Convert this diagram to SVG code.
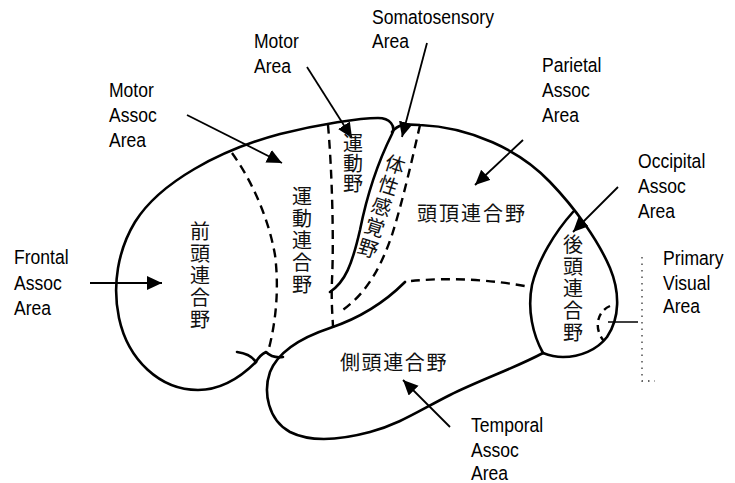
<svg xmlns="http://www.w3.org/2000/svg" width="735" height="483" viewBox="0 0 735 483">
<style>
.o{fill:none;stroke:#000;stroke-width:2.6;stroke-linecap:round;stroke-linejoin:round}
.d{fill:none;stroke:#000;stroke-width:2.4;stroke-dasharray:9 6}
.a{fill:none;stroke:#000;stroke-width:1.8}
.en{font-family:"Liberation Sans",Arial,sans-serif;font-size:19.5px;fill:#000}
.jp{font-family:"Noto Sans CJK JP","Noto Sans CJK SC",sans-serif;font-size:20px;fill:#111}
</style>
<defs>
<marker id="ah" markerUnits="userSpaceOnUse" markerWidth="16" markerHeight="15" refX="15" refY="7" orient="auto">
<path d="M0,0 L15,7 L0,14 z" fill="#000"/>
</marker>
</defs>
<rect width="735" height="483" fill="#fff"/>
<g id="outline">
<path class="o" d="M256,362 C240,378 220,390 198,390 C160,390 128,360 119,318 C112,285 118,250 135,222 C160,182 220,150 280,134 C320,124 360,118 378,118 C390,118 396,126 392,134 C380,158 368,190 360,230 C352,265 345,282 330,292"/>
<path class="o" d="M392,132 C398,124 405,124 420,125 C470,127 520,150 550,182 C575,208 598,240 610,268 C620,292 620,318 607,337 C597,350 580,357 563,357 C555,357 548,355 543,353"/>
<path class="o" d="M573,212 C555,232 538,260 532,285 C527,310 533,335 543,353"/>
<path class="o" d="M405,282 C385,302 360,318 330,328 C300,338 278,352 270,372 C263,392 268,420 290,432 C310,442 340,440 370,432 C400,424 420,410 450,395 C480,380 515,368 543,353"/>
<path class="o" d="M237,352 C245,353 252,356 256,362 C258,358 262,354 266,352 C270,356 276,358 283,357"/>
</g>
<g id="boundaries">
<path class="d" d="M232,153 C250,178 268,215 275,255 C280,295 274,330 268,352"/>
<path class="d" d="M328,125 C332,170 334,240 332,280 C331,305 333,320 333,328"/>
<path class="d" d="M420,125 C412,160 403,200 392,235 C380,270 365,295 340,312"/>
<path class="d" d="M411,281 C450,277 495,280 530,287"/>
<path class="d" style="stroke-dasharray:7 5" d="M610,306 C596,312 594,330 604,341"/>
<path fill="none" stroke="#000" stroke-width="1.5" d="M608,322 L638,322"/>
<path fill="none" stroke="#333" stroke-width="1.3" stroke-dasharray="1.5 5" d="M642,257 L642,381 L655,381"/>
</g>
<g id="connectors">
<path class="a" marker-end="url(#ah)" d="M90,283 L162,283"/>
<path class="a" marker-end="url(#ah)" d="M187,115 L282,163"/>
<path class="a" marker-end="url(#ah)" d="M307,67 L352,138"/>
<path class="a" marker-end="url(#ah)" d="M427,43 L402,137"/>
<path class="a" marker-end="url(#ah)" d="M523,140 L475,185"/>
<path class="a" marker-end="url(#ah)" d="M618,187 L573,232"/>
<path class="a" marker-end="url(#ah)" d="M450,427 L403,380"/>
</g>
<g id="frontal">
<text class="jp" text-anchor="middle"><tspan x="200" y="239">前</tspan><tspan x="200" y="261">頭</tspan><tspan x="200" y="283">連</tspan><tspan x="200" y="305">合</tspan><tspan x="200" y="327">野</tspan></text>
<text class="en" transform="translate(14,0) scale(0.9,1)"><tspan x="0" y="264">Frontal</tspan><tspan x="0" y="290">Assoc</tspan><tspan x="0" y="315">Area</tspan></text>
</g>
<g id="motor-assoc">
<text class="jp" text-anchor="middle"><tspan x="302" y="204">運</tspan><tspan x="302" y="226">動</tspan><tspan x="302" y="248">連</tspan><tspan x="302" y="270">合</tspan><tspan x="302" y="292">野</tspan></text>
<text class="en" transform="translate(109,0) scale(0.9,1)"><tspan x="0" y="97">Motor</tspan><tspan x="0" y="122">Assoc</tspan><tspan x="0" y="147">Area</tspan></text>
</g>
<g id="motor">
<text class="jp" text-anchor="middle"><tspan x="353" y="151">運</tspan><tspan x="353" y="171">動</tspan><tspan x="353" y="191">野</tspan></text>
<text class="en" transform="translate(254,0) scale(0.9,1)"><tspan x="0" y="48">Motor</tspan><tspan x="0" y="73">Area</tspan></text>
</g>
<g id="somatosensory">
<g transform="translate(395,165) rotate(18)">
<text class="jp" text-anchor="middle"><tspan x="0" y="7">体</tspan><tspan x="0" y="29">性</tspan><tspan x="0" y="51">感</tspan><tspan x="0" y="73">覚</tspan><tspan x="0" y="95">野</tspan></text>
</g>
<text class="en" transform="translate(372,0) scale(0.9,1)"><tspan x="0" y="24">Somatosensory</tspan><tspan x="0" y="48">Area</tspan></text>
</g>
<g id="parietal">
<text class="jp" x="417" y="221" letter-spacing="2">頭頂連合野</text>
<text class="en" transform="translate(542,0) scale(0.9,1)"><tspan x="0" y="72">Parietal</tspan><tspan x="0" y="97">Assoc</tspan><tspan x="0" y="122">Area</tspan></text>
</g>
<g id="occipital">
<text class="jp" text-anchor="middle"><tspan x="573" y="252">後</tspan><tspan x="573" y="274">頭</tspan><tspan x="573" y="296">連</tspan><tspan x="573" y="318">合</tspan><tspan x="573" y="340">野</tspan></text>
<text class="en" transform="translate(638,0) scale(0.9,1)"><tspan x="0" y="168">Occipital</tspan><tspan x="0" y="193">Assoc</tspan><tspan x="0" y="218">Area</tspan></text>
</g>
<g id="primary-visual">
<text class="en" transform="translate(663,0) scale(0.9,1)"><tspan x="0" y="265">Primary</tspan><tspan x="0" y="290">Visual</tspan><tspan x="0" y="313">Area</tspan></text>
</g>
<g id="temporal">
<text class="jp" x="340" y="370" letter-spacing="1.6">側頭連合野</text>
<text class="en" transform="translate(471,0) scale(0.9,1)"><tspan x="0" y="432">Temporal</tspan><tspan x="0" y="457">Assoc</tspan><tspan x="0" y="480">Area</tspan></text>
</g>
</svg>
